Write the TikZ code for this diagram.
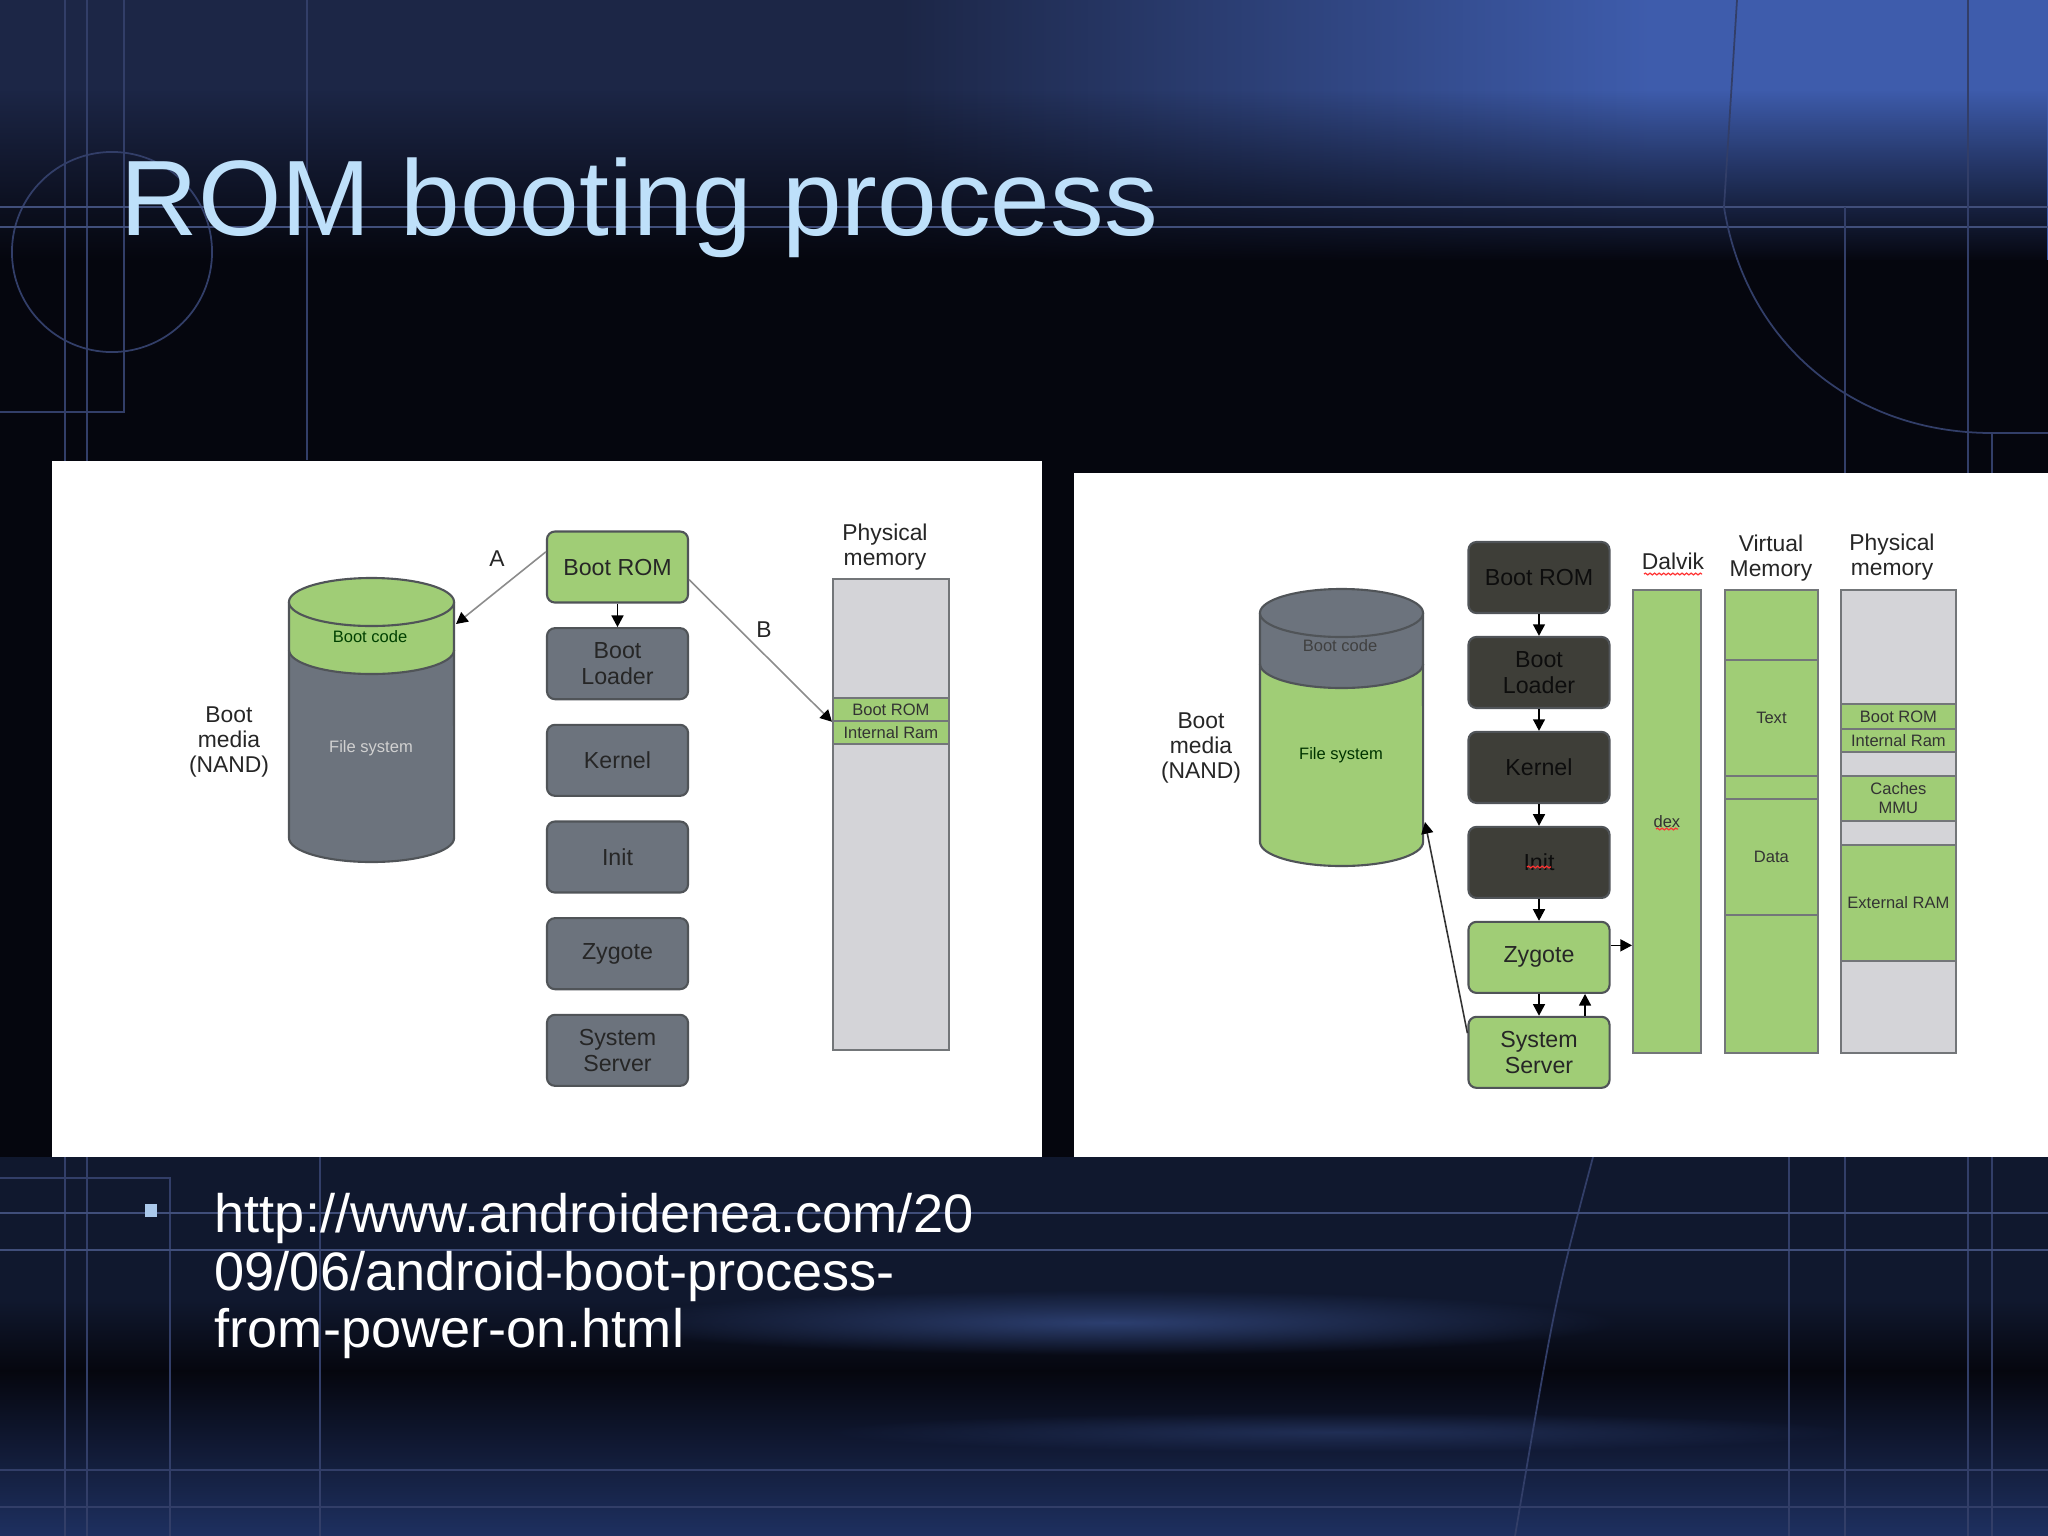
\documentclass[tikz,border=0pt]{standalone}
\usepackage{fontspec}
\setmainfont{Liberation Sans}
\usetikzlibrary{arrows.meta,positioning,calc,fadings,decorations.pathmorphing}

\definecolor{bootgreen}{RGB}{160,205,118}
\definecolor{bootgray}{RGB}{108,115,125}
\definecolor{bootdark}{RGB}{62,62,56}
\definecolor{memgray}{RGB}{212,212,216}
\definecolor{edgegray}{RGB}{80,84,88}
\definecolor{titleblue}{RGB}{190,224,250}
\definecolor{bulletblue}{RGB}{170,200,235}
\definecolor{bgblack}{RGB}{5,6,14}
\definecolor{navytop}{RGB}{28,38,70}
\definecolor{bluetop}{RGB}{62,92,172}
\definecolor{navybot}{RGB}{16,24,46}
\definecolor{botblue}{RGB}{30,48,96}
\definecolor{streak}{RGB}{48,68,120}
\definecolor{decoline}{RGB}{50,62,104}
\definecolor{decobright}{RGB}{64,78,122}
\tikzfading[name=glow, inner color=transparent!10, outer color=transparent!100]

\begin{document}
\begin{tikzpicture}[x=0.01cm, y=-0.01cm,
  stage/.style={draw=edgegray, line width=0.6pt, rounded corners=0.08cm,
                minimum width=1.41cm, minimum height=0.71cm, inner sep=0pt,
                align=center, font=\fontsize{6.6}{7.4}\selectfont},
  grayst/.style={stage, fill=bootgray, text=black!85},
  greenst/.style={stage, fill=bootgreen, text=black!85},
  darkst/.style={stage, fill=bootdark, text=black!95},
  col/.style={draw=edgegray!80, line width=0.5pt, inner sep=0pt, anchor=north west},
  tag/.style={font=\fontsize{6.5}{7.2}\selectfont, align=center, inner sep=0pt, text=black!85},
  small/.style={font=\fontsize{4.7}{5.3}\selectfont, align=center, inner sep=0pt, text=black!80},
  cyl/.style={draw=edgegray, line width=0.6pt},
  ar/.style={-{Triangle[length=3.3pt,width=3.4pt,color=black]}, line width=0.45pt},
  thinar/.style={ar, draw=black!45},
  deco/.style={draw=decoline, line width=0.5pt},
  spell/.style={draw=red!80, line width=0.35pt, decorate,
                decoration={snake, amplitude=0.25pt, segment length=1.3pt}},
]
\useasboundingbox (0,0) rectangle (2048,1536);

% backdrop
\fill[bgblack] (0,0) rectangle (2048,1536);
\fill[navytop] (0,0) rectangle (900,300);
\shade[left color=navytop, right color=bluetop] (900,0) rectangle (1650,300);
\fill[bluetop] (1650,0) rectangle (2048,300);
\fill[bgblack, path fading=north] (0,90) rectangle (2048,262);
\fill[bgblack] (0,260) rectangle (2048,1157);
\fill[navybot] (0,1157) rectangle (2048,1330);
\shade[top color=navybot, bottom color=bgblack] (0,1300) rectangle (2048,1372);
\shade[top color=bgblack, bottom color=botblue] (0,1370) rectangle (2048,1536);
\fill[streak, path fading=glow] (600,1290) rectangle (1620,1355);
\fill[streak, path fading=glow, opacity=0.6] (820,1412) rectangle (1860,1452);

% deco lines
\draw[deco] (65,0) -- (65,1536);
\draw[deco] (87,0) -- (87,1536);
\draw[deco] (124,0) -- (124,412) -- (0,412);
\draw[deco] (112,252) circle [radius=1cm];
\draw[deco] (307,0) -- (307,460);
\draw[deco, draw=decobright, line width=0.8pt] (0,207) -- (2048,207);
\draw[deco, draw=decobright, line width=0.8pt] (0,227) -- (2048,227);
\draw[deco] (1845,207) -- (1845,1536);
\draw[deco] (1968,0) -- (1968,1536);
\draw[deco] (1737,0) -- (1724,207) .. controls (1745,340) and (1850,433) .. (1992,433) -- (2048,433);
\draw[deco] (1992,433) -- (1992,1536);
\draw[deco] (0,1178) -- (170,1178) -- (170,1536);
\draw[deco] (320,1157) -- (320,1536);
\draw[deco] (1593,1157) .. controls (1555,1300) .. (1515,1536);
\draw[deco] (1789,1157) -- (1789,1536);
\draw[deco, draw=decobright, line width=0.7pt] (0,1213) -- (2048,1213);
\draw[deco, draw=decobright, line width=0.7pt] (0,1250) -- (2048,1250);
\draw[deco] (0,1470) -- (2048,1470);
\draw[deco] (0,1507) -- (2048,1507);

% title
\node[anchor=base west, inner sep=0pt, text=titleblue, font=\fontsize{30.5}{36}\selectfont]
  (title) at (120,235) {ROM booting process};

% left panel
\fill[white] (52,461) rectangle (1042,1157);
\fill[bootgray] (289,602) -- (289,838) arc[start angle=180, end angle=360, x radius=0.825cm, y radius=0.24cm] -- (454,602) -- cycle;
\fill[bootgreen] (289,602) -- (289,650) arc[start angle=180, end angle=360, x radius=0.825cm, y radius=0.24cm] -- (454,602) -- cycle;
\draw[cyl] (289,602) -- (289,838) arc[start angle=180, end angle=360, x radius=0.825cm, y radius=0.24cm] -- (454,602);
\draw[cyl] (289,650) arc[start angle=180, end angle=360, x radius=0.825cm, y radius=0.24cm];
\draw[cyl, fill=bootgreen] (371.5,602) ellipse [x radius=0.825cm, y radius=0.24cm];
\node[small, text=green!25!black] (codeL) at (370,637) {Boot code};
\node[small, text=black!18] (fsL) at (371,748) {File system};
\node[tag] (mediaL) at (229,742) {Boot\\media\\(NAND)};
\coordinate (cylL) at (456,624);

\begin{scope}[node distance=0.235cm]
  \node[greenst] (bootL) at (617.5,567) {Boot ROM};
  \node[grayst, below=of bootL] (loadL) {Boot\\Loader};
  \node[grayst, below=of loadL] (kernL) {Kernel};
  \node[grayst, below=of kernL] (initL) {Init};
  \node[grayst, below=of initL] (zygL) {Zygote};
  \node[grayst, below=of zygL] (sysL) {System\\Server};
\end{scope}

\node[col, fill=memgray, minimum width=1.16cm, minimum height=4.71cm] (memL) at (832,578) {};
\node[col, small, fill=bootgreen, minimum width=1.16cm, minimum height=0.23cm] (romL) at (832,697) {Boot ROM};
\node[col, small, fill=bootgreen, minimum width=1.16cm, minimum height=0.23cm] (ramL) at (832,720) {Internal Ram};
\node[tag] (physL) at (885,547) {Physical\\memory};

\draw[ar] (bootL) -- (loadL);
\draw[thinar] (bootL.168) -- (cylL);
\draw[thinar] (bootL.-10) -- (romL.south west);
\node[tag] (labA) at (497,559) {A};
\node[tag] (labB) at (764,630) {B};

% right panel
\fill[white] (1074,473) rectangle (2048,1157);
\fill[bootgreen] (1260,613) -- (1260,842) arc[start angle=180, end angle=360, x radius=0.815cm, y radius=0.24cm] -- (1423,613) -- cycle;
\fill[bootgray] (1260,613) -- (1260,664) arc[start angle=180, end angle=360, x radius=0.815cm, y radius=0.24cm] -- (1423,613) -- cycle;
\draw[cyl] (1260,613) -- (1260,842) arc[start angle=180, end angle=360, x radius=0.815cm, y radius=0.24cm] -- (1423,613);
\draw[cyl] (1260,664) arc[start angle=180, end angle=360, x radius=0.815cm, y radius=0.24cm];
\draw[cyl, fill=bootgray] (1341.5,613) ellipse [x radius=0.815cm, y radius=0.24cm];
\node[small, text=black!75] (codeR) at (1340,646) {Boot code};
\node[small, text=green!20!black] (fsR) at (1341,755) {File system};
\node[tag] (mediaR) at (1201,748) {Boot\\media\\(NAND)};
\coordinate (cylR) at (1425,822);

\begin{scope}[node distance=0.218cm]
  \node[darkst] (bootR) at (1539,577.5) {Boot ROM};
  \node[darkst, below=of bootR] (loadR) {Boot\\Loader};
  \node[darkst, below=of loadR] (kernR) {Kernel};
  \node[darkst, below=of kernR] (initR) {Init};
  \node[greenst, below=of initR] (zygR) {Zygote};
  \node[greenst, below=of zygR] (sysR) {System\\Server};
\end{scope}

% dalvik + virtual memory
\node[col, small, fill=bootgreen, minimum width=0.68cm, minimum height=4.63cm] (dalvik) at (1632,589) {dex};
\node[col, fill=bootgreen, minimum width=0.93cm, minimum height=0.70cm] (vmA) at (1724,589) {};
\node[col, small, fill=bootgreen, minimum width=0.93cm, minimum height=1.16cm] (vmText) at (1724,659) {Text};
\node[col, fill=bootgreen, minimum width=0.93cm, minimum height=0.23cm] (vmB) at (1724,775) {};
\node[col, small, fill=bootgreen, minimum width=0.93cm, minimum height=1.16cm] (vmData) at (1724,798) {Data};
\node[col, fill=bootgreen, minimum width=0.93cm, minimum height=1.38cm] (vmC) at (1724,914) {};

% physical memory
\node[col, fill=memgray, minimum width=1.15cm, minimum height=4.63cm] (memR) at (1840,589) {};
\node[col, small, fill=bootgreen, minimum width=1.15cm, minimum height=0.25cm] (romR) at (1840,703) {Boot ROM};
\node[col, small, fill=bootgreen, minimum width=1.15cm, minimum height=0.23cm] (ramR) at (1840,728) {Internal Ram};
\node[col, small, fill=bootgreen, minimum width=1.15cm, minimum height=0.45cm] (cacheR) at (1840,775) {Caches\\MMU};
\node[col, small, fill=bootgreen, minimum width=1.15cm, minimum height=1.16cm] (extR) at (1840,844) {External RAM};

\node[tag] (dalvikL) at (1673,561) {Dalvik};
\node[tag] (virtL) at (1771,558) {Virtual\\Memory};
\node[tag] (physR) at (1892,557) {Physical\\memory};
\draw[spell] (1644,574) -- (1702,574);
\draw[spell] (1656,829) -- (1678,829);
\draw[spell] (1527,867) -- (1551,867);

\foreach \a/\b in {bootR/loadR, loadR/kernR, kernR/initR, initR/zygR, zygR/sysR}
  \draw[ar] (\a) -- (\b);
\draw[ar] ([xshift=0.46cm]sysR.north) -- ([xshift=0.46cm]zygR.south);
\coordinate (zygOut) at ([yshift=0.12cm]zygR.east);
\draw[ar] (zygOut) -- (zygOut -| dalvik.west);
\draw[ar, draw=black!80] (sysR.165) -- (cylR);

% source link
\node[fill=bulletblue, minimum width=0.11cm, minimum height=0.13cm, inner sep=0pt] (bullet) at (151,1210) {};
\node[anchor=base west, inner sep=0pt, text=white, font=\fontsize{15.4}{16.4}\selectfont] (urlA) at (214,1232) {http://www.androidenea.com/20};
\node[anchor=base west, inner sep=0pt, text=white, font=\fontsize{15.4}{16.4}\selectfont] (urlB) at (214,1290) {09/06/android-boot-process-};
\node[anchor=base west, inner sep=0pt, text=white, font=\fontsize{15.4}{16.4}\selectfont] (urlC) at (214,1347) {from-power-on.html};
\end{tikzpicture}
\end{document}
